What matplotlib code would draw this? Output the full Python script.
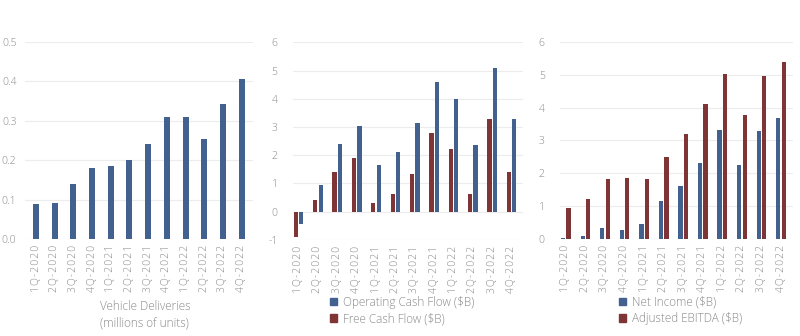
import matplotlib
matplotlib.use("Agg")
import matplotlib.pyplot as plt
import matplotlib.patches as mpatches
import numpy as np

plt.rcParams['font.family'] = ['Open Sans', 'DejaVu Sans']
plt.rcParams['font.weight'] = 'light'

quarters = ['1Q-2020', '2Q-2020', '3Q-2020', '4Q-2020',
            '1Q-2021', '2Q-2021', '3Q-2021', '4Q-2021',
            '1Q-2022', '2Q-2022', '3Q-2022', '4Q-2022']

# deliveries, millions of units
deliveries = [0.0884, 0.0907, 0.1396, 0.1806, 0.1849, 0.2014,
              0.2412, 0.3087, 0.3103, 0.2547, 0.3434, 0.4053]

# cash flow, $B
op_cash_flow = [-0.44, 0.96, 2.40, 3.02, 1.64, 2.12,
                3.15, 4.58, 3.99, 2.35, 5.10, 3.28]
free_cash_flow = [-0.89, 0.42, 1.40, 1.90, 0.29, 0.62,
                  1.33, 2.77, 2.23, 0.62, 3.30, 1.42]

# profitability, $B
net_income = [0.016, 0.10, 0.33, 0.27, 0.44, 1.14,
              1.62, 2.32, 3.32, 2.26, 3.29, 3.69]
adj_ebitda = [0.95, 1.21, 1.81, 1.85, 1.84, 2.50,
              3.20, 4.10, 5.02, 3.79, 4.97, 5.40]

BLUE = '#42618f'
RED = '#7f3535'
GRID = '#ececec'
TXT = '#8a8a8a'

fig = plt.figure(figsize=(8, 3.36), dpi=100)
fig.patch.set_facecolor('white')

x = np.arange(len(quarters))
# tracked-out tick labels (hair space between letters)
spaced = ['\u200a'.join(q) for q in quarters]


def style(ax, ylim, yticks, fmt, pad):
    ax.set_ylim(*ylim)
    ax.set_yticks(yticks)
    ax.set_yticklabels([fmt.format(t) for t in yticks])
    ax.set_xticks(x)
    ax.set_xticklabels(spaced, rotation=90)
    ax.set_xlim(-0.6, 11.6)
    for s in ax.spines.values():
        s.set_visible(False)
    ax.grid(axis='y', color=GRID, linewidth=0.8)
    ax.set_axisbelow(True)
    ax.tick_params(length=0, colors=TXT, labelsize=7.5)
    ax.tick_params(axis='y', pad=pad)
    ax.tick_params(axis='x', pad=4)


# vehicle deliveries
ax1 = fig.add_axes([0.031, 0.289, 0.285, 0.586])
ax1.bar(x, deliveries, width=0.32, color=BLUE)
style(ax1, (0, 0.5), [0, 0.1, 0.2, 0.3, 0.4, 0.5], '{:.1f}', 6)
fig.text(0.181, 0.108, 'Vehicle Deliveries\n(millions of units)',
         ha='center', va='top', fontsize=8.5, color=TXT, linespacing=1.35)

# cash flow
w = 0.28
ax2 = fig.add_axes([0.366, 0.286, 0.288, 0.588])
ax2.bar(x - w / 2, free_cash_flow, width=0.22, color=RED)
ax2.bar(x + w / 2, op_cash_flow, width=0.22, color=BLUE)
style(ax2, (-1, 6), list(range(-1, 7)), '{:d}', 11)
ax2.set_xlim(-0.3, 11.6)
fig.legend(handles=[mpatches.Patch(color=BLUE, label='Operating Cash Flow ($B)'),
                    mpatches.Patch(color=RED, label='Free Cash Flow ($B)')],
           loc='lower left', bbox_to_anchor=(0.399, 0.0), frameon=False,
           fontsize=8.5, labelcolor=TXT, handlelength=0.6, handleheight=0.6,
           handletextpad=0.5, labelspacing=0.3)

# profitability
ax3 = fig.add_axes([0.70, 0.289, 0.291, 0.586])
ax3.bar(x - w / 2, net_income, width=0.22, color=BLUE)
ax3.bar(x + w / 2, adj_ebitda, width=0.22, color=RED)
style(ax3, (0, 6), list(range(0, 7)), '{:d}', 11)
ax3.set_xlim(-0.3, 11.6)
fig.legend(handles=[mpatches.Patch(color=BLUE, label='Net Income ($B)'),
                    mpatches.Patch(color=RED, label='Adjusted EBITDA ($B)')],
           loc='lower left', bbox_to_anchor=(0.76, 0.0), frameon=False,
           fontsize=8.5, labelcolor=TXT, handlelength=0.6, handleheight=0.6,
           handletextpad=0.5, labelspacing=0.3)

fig.savefig('out.png', dpi=100, facecolor='white')
